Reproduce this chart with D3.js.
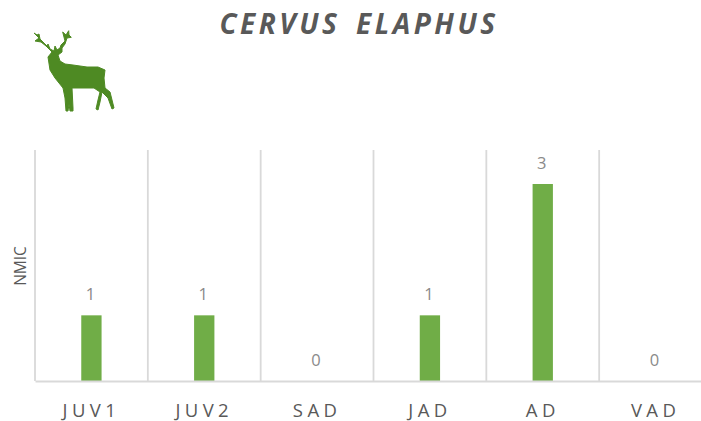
<!DOCTYPE html>
<html><head><meta charset="utf-8">
<script src="https://cdn.jsdelivr.net/npm/d3@7/dist/d3.min.js"></script>
<style>html,body{margin:0;padding:0;background:#fff}svg{display:block}text{font-family:"Open Sans",sans-serif}</style>
</head><body><div id="chart"></div>
<script>
const categories=["JUV1","JUV2","SAD","JAD","AD","VAD"];
const values=[1,1,0,1,3,0];
const chartTitle="CERVUS  ELAPHUS";
const yLabel="NMIC";
const W=701,H=421,plotLeft=35,plotRight=712,plotTop=150,base=381;
const svg=d3.select("#chart").append("svg").attr("width",W).attr("height",H);
const x=d3.scaleBand().domain(categories).range([plotLeft,plotRight]).paddingInner(.82).paddingOuter(.41);
const y=d3.scaleLinear().domain([0,3]).range([base,184]);
const step=x.step();
// gridlines at category boundaries
svg.append("g").selectAll("line").data(d3.range(categories.length)).join("line")
 .attr("x1",i=>plotLeft+i*step).attr("x2",i=>plotLeft+i*step).attr("y1",plotTop).attr("y2",base)
 .attr("stroke","#d9d9d9").attr("stroke-width",1.8);
// bars
svg.append("g").selectAll("rect").data(categories).join("rect")
 .attr("x",d=>x(d)).attr("width",x.bandwidth())
 .attr("y",(d,i)=>y(values[i])).attr("height",(d,i)=>base-y(values[i])).attr("fill","#70ad47");
// axis
const ax=svg.append("g").attr("transform",`translate(0,${base})`).call(d3.axisBottom(x).tickSize(0).tickPadding(23));
ax.select(".domain").attr("stroke","#d9d9d9").attr("stroke-width",2);
ax.selectAll("text").attr("font-size",18.5).attr("letter-spacing",4.4).attr("fill","#595959").style("font-family",'"Open Sans",sans-serif');
// data labels
svg.append("g").selectAll("text").data(categories).join("text")
 .attr("x",d=>x(d)+x.bandwidth()/2-1).attr("y",(d,i)=>y(values[i])-15)
 .attr("text-anchor","middle").attr("font-size",16.5).attr("fill","#8a8a8a").text((d,i)=>values[i]);
// title
svg.append("text").attr("x",359).attr("y",34).attr("text-anchor","middle").attr("font-size",28)
 .attr("font-weight",700).attr("font-style","italic").attr("letter-spacing",3.5).attr("word-spacing",-3)
 .attr("fill","#595959").style("white-space","pre").text(chartTitle);
// y label
svg.append("text").attr("transform","translate(26,266) rotate(-90)").attr("text-anchor","middle")
 .attr("font-size",15.5).attr("fill","#595959").text(yLabel);
// deer silhouette (decorative)
svg.append("path").attr("fill","#4e8a23").attr("stroke","#4e8a23").attr("stroke-width",1).attr("stroke-linejoin","round")
 .attr("d","M52,52 L46,46 L41,42 L35,41 L39,38 L34,33 L37,35 L39,34 L40,39 L44,43 L47,46 L48,44 L50,49 L54,51 L55,46 L57,50 L60,48 L61,45 L65,41 L62.7,32 L66,35 L68.7,30.7 L69,35 L71.3,37.3 L67,38 L65,44 L62,48 L62,52 L58,55 L60,61 L65,64 L73,65 L87,67 L98,67 L105,70 L104,78 L105,88 L110,92 L114,108 L112,109 L108,98 L102,92 L100,102 L98,110 L96,109 L98,100 L100,92 L94,88 L72,88 L73,108 L73,111 L70,111 L69,104 L68,111 L66,111 L65,98 L63,88 L55,78 L50,70 L48,57 Z");
</script></body></html>
